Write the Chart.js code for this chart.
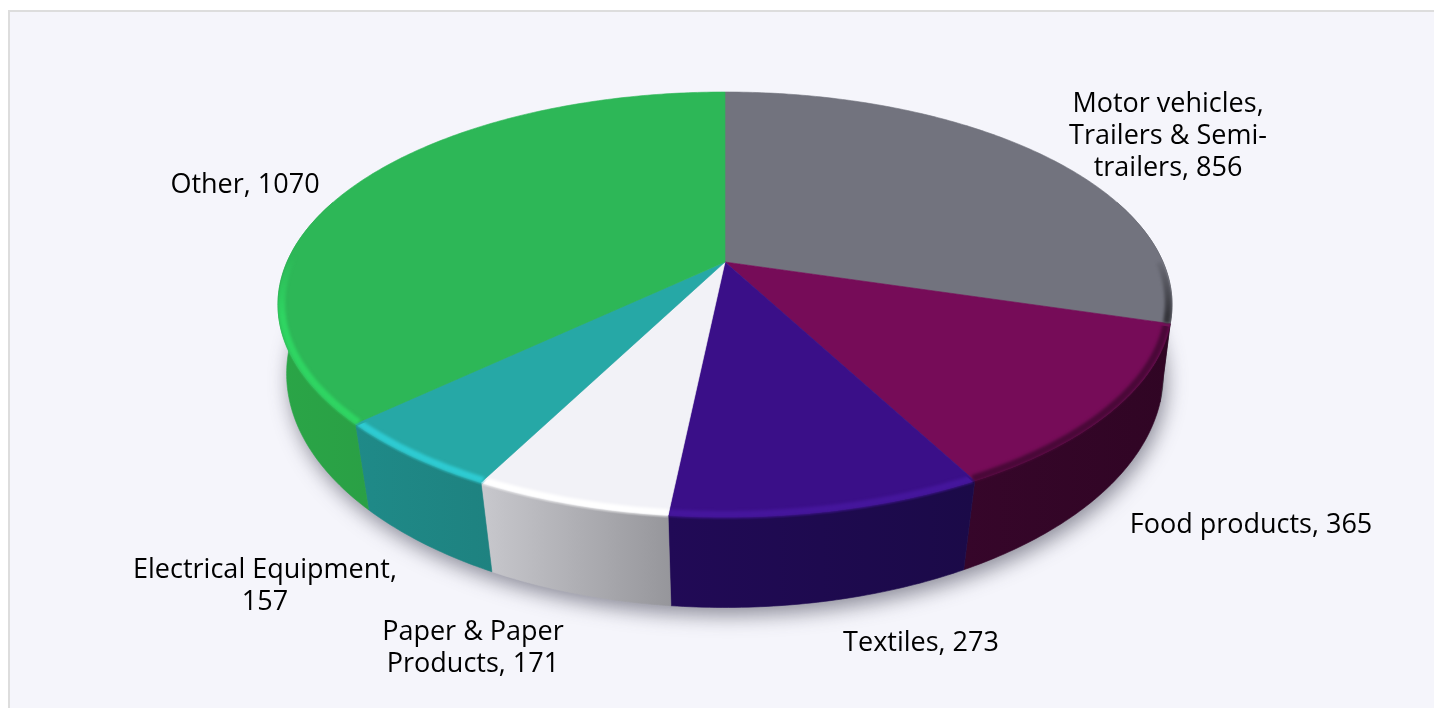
<!DOCTYPE html>
<html><head><meta charset="utf-8">
<script src="https://cdn.jsdelivr.net/npm/chart.js@4"></script>
<style>
html,body{margin:0;padding:0;background:#fff;overflow:hidden}
#card{position:absolute;left:8px;top:10px;width:1426px;height:698px;box-sizing:border-box;background:#f5f5fb;border-left:2px solid #dddddd;border-top:2px solid #dddddd}
canvas{position:absolute;left:0;top:0}
</style></head><body>
<div id="card"></div>
<canvas id="c" width="1434" height="708" style="width:1434px;height:708px"></canvas>
<script>
const categories = ["Motor vehicles, Trailers & Semi-trailers","Food products","Textiles","Paper & Paper Products","Electrical Equipment","Other"];
const values = [856,365,273,171,157,1070];

const faceColors = ["#72737e","#760c58","#3a0f88","#f2f2f7","#26a8a6","#2db757"];
const wallLeft   = ["#5a5b63","#36062a","#210a56","#c8c8cd","#1f8a88","#2aa547"];
const wallRight  = ["#3a3a40","#300524","#1b0a48","#96969b","#1e8280","#2aa045"];
const rimColors  = ["#35353b","#4a0838","#45169c","#ffffff","#2ecbd2","#2fd562"];
const labelWrap  = [210,260,180,195,275,170];
const labelAnchor= [[1168,104],[1251,525],[921,643],[473,632],[265,570],[245,185]];

const P = {cx:725,cy:262,A:438,B:204,k:0.2, A2:432,B2:227,k2:0.17,by:334};
const topPt = (t,r=1)=>{const x=Math.sin(t)*r,y=-Math.cos(t)*r,w=1-P.k*y;return [P.cx+P.A*x/w,P.cy+P.B*y/w];};
const botPt = (t)=>{const x=Math.sin(t),y=-Math.cos(t),w=1-P.k2*y;return [P.cx+P.A2*x/w,P.by+P.B2*y/w];};
const samples=(a,b)=>{const n=Math.max(4,Math.ceil((b-a)*80));return Array.from({length:n+1},(_,i)=>a+(b-a)*i/n);};

const tracePath=(ctx,pts,close)=>{ctx.beginPath();pts.forEach((p,i)=>i?ctx.lineTo(p[0],p[1]):ctx.moveTo(p[0],p[1]));if(close)ctx.closePath();};

const pie3d = {
  id:'pie3d',
  beforeDatasetsDraw(chart){
    const ctx=chart.ctx, arcs=chart.getDatasetMeta(0).data;
    const ang=arcs.map(a=>[a.startAngle+Math.PI/2,a.endAngle+Math.PI/2]);
    // soft ground shadow
    ctx.save();
    ctx.filter='blur(10px)';
    ctx.fillStyle='rgba(40,40,60,0.5)';
    const full=samples(Math.PI*0.4,Math.PI*1.6).map(t=>{const p=botPt(t);return [p[0]+3,p[1]+8];});
    tracePath(ctx,full,true);ctx.fill();
    ctx.restore();
    // walls
    arcs.forEach((a,i)=>{
      const ts=samples(Math.max(ang[i][0],Math.PI*0.4),Math.min(ang[i][1],Math.PI*1.6));
      if(ang[i][1]<=Math.PI*0.4||ang[i][0]>=Math.PI*1.6) return;
      const pts=ts.map(t=>topPt(t)).concat(ts.slice().reverse().map(botPt));
      const xs=pts.map(p=>p[0]);
      const g=ctx.createLinearGradient(Math.min(...xs),0,Math.max(...xs),0);
      g.addColorStop(0,wallLeft[i]);g.addColorStop(1,wallRight[i]);
      tracePath(ctx,pts,true);
      ctx.fillStyle=g;ctx.fill();ctx.strokeStyle=g;ctx.lineWidth=0.6;ctx.stroke();
    });
    // top faces
    arcs.forEach((a,i)=>{
      const pts=[[P.cx,P.cy]].concat(samples(ang[i][0],ang[i][1]).map(t=>topPt(t)));
      tracePath(ctx,pts,true);
      ctx.fillStyle=faceColors[i];ctx.fill();ctx.strokeStyle=faceColors[i];ctx.lineWidth=0.6;ctx.stroke();
    });
    // bevel along the front rim, fading out towards the back
    arcs.forEach((a,i)=>{
      const s=Math.max(ang[i][0],Math.PI*0.5), e=Math.min(ang[i][1],Math.PI*1.55);
      if(e<=s) return;
      ctx.save();
      const clip=[[P.cx,P.cy]].concat(samples(ang[i][0],ang[i][1]).map(t=>{const p=topPt(t);return [p[0],p[1]+3];}));
      tracePath(ctx,clip,true);
      ctx.clip();
      ctx.filter='blur(1.6px)';
      tracePath(ctx,samples(s,e).map(t=>topPt(t,0.992)),false);
      const g=ctx.createLinearGradient(0,255,0,315);
      g.addColorStop(0,rimColors[i]+'00');g.addColorStop(1,rimColors[i]);
      ctx.strokeStyle=g;ctx.lineWidth=7;ctx.stroke();
      ctx.restore();
    });
    return false;
  },
  afterDraw(chart){
    const ctx=chart.ctx;
    ctx.save();
    ctx.font='27px "Open Sans"';
    ctx.fillStyle='#000';ctx.textAlign='center';ctx.textBaseline='middle';
    categories.forEach((c,i)=>{
      const tokens=(c+', '+values[i]).split(/(?<= )|(?<=-)/);
      const lines=[];let cur='';
      tokens.forEach(t=>{
        if(ctx.measureText((cur+t).trim()).width>labelWrap[i]&&cur){lines.push(cur.trim());cur=t;}
        else cur+=t;
      });
      lines.push(cur.trim());
      lines.forEach((l,j)=>ctx.fillText(l,labelAnchor[i][0],labelAnchor[i][1]+j*32));
    });
    ctx.restore();
  }
};

new Chart(document.getElementById('c'),{
  type:'pie',
  data:{labels:categories,datasets:[{data:values,backgroundColor:faceColors,borderWidth:0}]},
  options:{responsive:false,animation:false,plugins:{legend:{display:false},tooltip:{enabled:false}}},
  plugins:[pie3d]
});
</script>
</body></html>
